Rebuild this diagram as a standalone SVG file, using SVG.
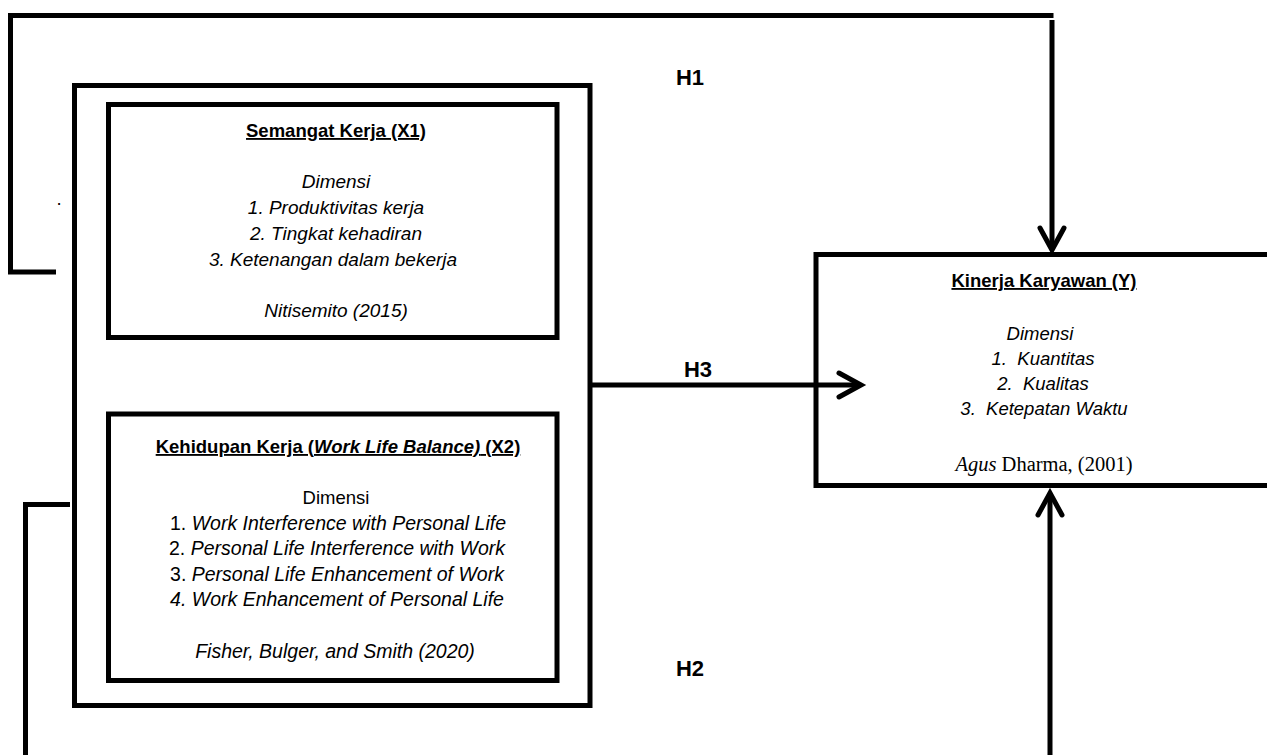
<svg xmlns="http://www.w3.org/2000/svg" width="1267" height="755" viewBox="0 0 1267 755">
<style>
  .bg { fill: #ffffff; }
  .box { fill: none; stroke: #000; stroke-width: 5; }
  .conn { fill: none; stroke: #000; stroke-width: 5; stroke-linecap: butt; stroke-linejoin: miter; }
  .t { font-family: "Liberation Sans", Arial, sans-serif; font-size: 18.5px; fill: #000; text-anchor: middle; }
  .m { font-size: 19px; }
  .w { font-size: 19.5px; }
  .i { font-style: italic; }
  .b { font-weight: bold; }
  .u { text-decoration: underline; }
  .lbl { font-family: "Liberation Sans", Arial, sans-serif; font-size: 22px; font-weight: bold; fill: #000; text-anchor: middle; }
  .serif { font-family: "Liberation Serif", "Times New Roman", serif; font-size: 20.5px; fill: #000; text-anchor: middle; }
</style>
<defs>
  <marker id="chev" markerUnits="userSpaceOnUse" viewBox="-32 -20 40 40" refX="0" refY="0" markerWidth="40" markerHeight="40" orient="auto">
    <path d="M -22 -12 L 0 0 L -22 12" fill="none" stroke="#000" stroke-width="5" stroke-linecap="round" stroke-linejoin="miter"/>
  </marker>
</defs>
<rect class="bg" x="0" y="0" width="1267" height="755"/>

<g id="connectors">
  <path id="h1-line" class="conn" d="M 56 272 H 10.5 V 15.5 H 1053.5"/>
  <line id="h1-arrow" class="conn" x1="1052" y1="20" x2="1052" y2="250" marker-end="url(#chev)"/>
  <line id="h3-arrow" class="conn" x1="590" y1="385" x2="861" y2="385" marker-end="url(#chev)"/>
  <path id="h2-line" class="conn" d="M 70 504.5 H 25.5 V 760"/>
  <line id="h2-arrow" class="conn" x1="1050" y1="760" x2="1050" y2="493" marker-end="url(#chev)"/>
</g>

<g id="labels">
  <text class="lbl" x="690" y="85">H1</text>
  <text class="lbl" x="698" y="377">H3</text>
  <text class="lbl" x="690" y="676">H2</text>
  <text class="t" x="59" y="205">.</text>
</g>

<g id="group-x">
  <rect class="box" x="74.5" y="85.5" width="515.5" height="620"/>
</g>

<g id="node-x1">
  <rect class="box" x="108.5" y="104.5" width="448.5" height="233"/>
  <text class="t b u" x="336" y="137">Semangat Kerja (X1)</text>
  <text class="t i m" x="336" y="188">Dimensi</text>
  <text class="t i m" x="336" y="214">1. Produktivitas kerja</text>
  <text class="t i m" x="336" y="240">2. Tingkat kehadiran</text>
  <text class="t i m" x="333" y="265.5">3. Ketenangan dalam bekerja</text>
  <text class="t i m" x="336" y="317">Nitisemito (2015)</text>
</g>

<g id="node-x2">
  <rect class="box" x="108.5" y="414" width="448.5" height="266.5"/>
  <text class="t b u" x="338" y="453">Kehidupan Kerja (<tspan class="i">Work Life Balance)</tspan> (X2)</text>
  <text class="t" x="336" y="504">Dimensi</text>
  <text class="t w" x="338" y="529.5">1. <tspan class="i">Work Interference with Personal Life</tspan></text>
  <text class="t w" x="337" y="555">2. <tspan class="i">Personal Life Interference with Work</tspan></text>
  <text class="t w" x="337" y="580.5">3. <tspan class="i">Personal Life Enhancement of Work</tspan></text>
  <text class="t i w" x="337" y="606">4. Work Enhancement of Personal Life</text>
  <text class="t i w" x="335" y="658">Fisher, Bulger, and Smith (2020)</text>
</g>

<g id="node-y">
  <rect class="box" x="816" y="254.5" width="470" height="231"/>
  <text class="t b u" x="1044" y="287">Kinerja Karyawan (Y)</text>
  <text class="t i" x="1040" y="340">Dimensi</text>
  <text class="t i" x="1043" y="365" xml:space="preserve">1.  Kuantitas</text>
  <text class="t i" x="1043" y="390" xml:space="preserve">2.  Kualitas</text>
  <text class="t i" x="1044" y="415" xml:space="preserve">3.  Ketepatan Waktu</text>
  <text class="serif" x="1044" y="471"><tspan class="i">Agus</tspan> Dharma, (2001)</text>
</g>
</svg>
